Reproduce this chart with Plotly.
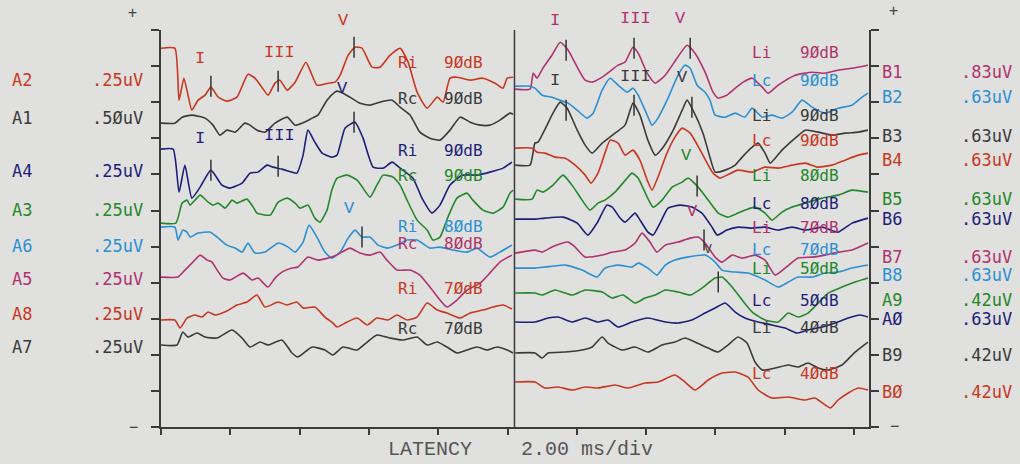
import plotly.graph_objects as go

# ---------------- constants of the display ----------------
RIGHT_OFFSET_MS = 10.0      # right-ear block is drawn after the left block
DIVIDER_MS = 10.2
X_MAX_MS = 20.43
DIV_UNITS = 36.1            # one vertical division in plot units
Y_MAX = 397.2

RED = "#c8371e"
GRAY = "#3a3a3a"
NAVY = "#1e1e7a"
GREEN = "#23882a"
BLUE = "#2b8fd4"
MAGENTA = "#b1326e"
BG = "#e0e0de"
AX = "#3a3a3a"
MONO = "DejaVu Sans Mono"
TYPE = "Liberation Mono"

# ---------------- left block (latency ms, displayed height) ----------------
A2_MS = [0.00,0.40,0.52,0.66,0.78,0.89,1.07,1.27,1.44,1.65,1.90,2.19,2.51,2.71,2.91,3.09,3.29,3.43,3.64,3.87,4.18,4.30,4.50,4.82,5.02,5.17,5.40,5.60,5.80,6.09,6.32,6.61,6.90,7.13,7.39,7.68,7.97,8.14,8.34,8.54,8.92,9.29,9.64,9.87,9.99,10.16]
A2_H = [379,379,327,349,332,317,327,332,340,330,326,330,353,349,340,332,344,347,337,345,365,357,342,344,345,352,372,380,379,360,360,372,379,365,335,319,330,325,349,350,347,349,344,339,349,350]

A1_MS = [0.00,0.40,0.61,0.89,1.27,1.50,1.70,1.90,2.14,2.42,2.57,2.77,3.00,3.29,3.64,3.87,4.07,4.36,4.53,4.79,5.02,5.08,5.25,5.45,5.74,6.03,6.32,6.67,6.90,7.19,7.47,7.76,8.05,8.34,8.63,8.92,9.21,9.49,9.78,10.07,10.16]
A1_H = [304,304,310,312,309,302,292,297,295,304,302,297,295,304,310,302,304,309,312,327,335,336,334,330,324,322,325,327,320,312,295,289,287,297,310,305,302,302,307,314,313]

A4_MS = [0.00,0.35,0.52,0.69,0.89,1.13,1.44,1.76,1.99,2.34,2.57,2.80,3.06,3.23,3.49,3.78,3.92,4.10,4.24,4.44,4.65,4.93,5.08,5.31,5.60,5.83,6.12,6.41,6.67,6.90,7.27,7.53,7.82,8.05,8.34,8.69,9.12,9.49,9.87,10.13]
A4_H = [278,278,235,262,229,240,257,242,239,244,254,255,262,260,258,255,254,272,297,285,274,270,272,299,305,289,260,259,265,259,249,229,214,222,242,252,252,255,259,265]

A3_MS = [0.00,0.43,0.61,0.75,0.84,1.13,1.36,1.50,1.65,1.85,2.05,2.19,2.48,2.66,2.77,3.15,3.38,3.64,3.87,4.01,4.24,4.44,4.59,4.79,4.93,5.08,5.37,5.66,5.83,6.03,6.23,6.41,6.70,6.90,7.10,7.39,7.68,7.85,8.05,8.28,8.54,8.83,9.00,9.29,9.58,9.87,10.07,10.16]
A3_H = [204,204,224,227,222,232,225,222,224,219,227,224,228,220,214,212,225,229,224,219,222,209,205,217,237,249,252,247,239,230,242,252,250,242,227,207,197,187,190,210,229,234,227,217,214,220,234,237]

A6_MS = [0.00,0.40,0.49,0.63,0.75,0.84,1.07,1.41,1.62,1.90,2.14,2.34,2.51,2.71,3.00,3.38,3.67,3.87,4.10,4.27,4.50,4.73,4.93,5.17,5.40,5.60,5.80,6.03,6.26,6.55,6.81,7.10,7.39,7.76,8.05,8.43,8.83,9.12,9.49,9.78,10.13]
A6_H = [200,200,187,197,195,190,194,195,190,182,179,175,184,174,175,184,180,175,185,202,190,175,169,175,189,197,190,190,182,179,182,187,187,179,180,177,175,179,170,175,182]

A5_MS = [0.00,0.49,0.69,0.92,1.13,1.33,1.47,1.62,1.79,1.99,2.37,2.63,2.80,3.09,3.29,3.49,3.78,3.95,4.24,4.53,4.93,5.17,5.45,5.74,6.03,6.32,6.52,6.81,7.19,7.47,7.76,8.05,8.25,8.54,8.83,9.21,9.49,9.78,10.13]
A5_H = [150,150,157,165,172,167,165,157,149,147,154,147,149,140,149,155,159,160,170,167,170,174,179,174,172,175,167,157,157,152,140,127,120,127,137,144,154,165,172]

A8_MS = [0.00,0.40,0.55,0.75,0.98,1.18,1.36,1.56,1.90,2.19,2.48,2.77,3.00,3.38,3.64,3.92,4.10,4.44,4.73,4.96,5.08,5.37,5.66,5.95,6.23,6.55,6.81,7.10,7.39,7.68,7.97,8.25,8.63,8.92,9.29,9.58,9.87,10.13]
A8_H = [107,107,99,109,112,110,115,112,116,122,125,132,120,125,122,125,119,120,110,104,100,105,109,102,109,107,112,107,110,124,117,114,109,114,117,120,122,118]

A7_MS = [0.00,0.46,0.63,0.78,1.04,1.27,1.62,2.05,2.34,2.57,2.86,3.09,3.49,3.78,3.95,4.36,4.73,4.96,5.25,5.66,5.95,6.23,6.61,6.98,7.39,7.68,7.97,8.25,8.54,8.83,9.12,9.41,9.70,9.99,10.16]
A7_H = [82,82,95,90,94,90,89,97,89,80,85,82,87,74,70,80,77,72,80,77,85,92,89,87,90,82,85,80,74,77,80,77,80,77,74]

# ---------------- right block (local latency ms, displayed height) ----------------
B1_MS = [0.22,0.65,0.74,0.85,1.02,1.28,1.52,1.75,2.01,2.24,2.44,2.73,3.19,3.39,3.62,3.77,4.03,4.26,4.55,4.89,5.18,5.41,5.70,5.93,6.08,6.33,6.57,6.80,7.06,7.35,7.52,7.81,8.30,8.79,9.16,9.54,9.94,10.40]
B1_H = [338,338,354,349,359,372,385,377,360,347,345,350,362,365,380,374,354,344,352,369,382,374,355,335,329,332,339,345,349,340,334,342,352,355,354,357,359,362]

B2_MS = [0.22,0.65,0.79,1.00,1.28,1.52,1.75,2.01,2.29,2.47,2.73,2.96,3.19,3.45,3.62,3.77,4.03,4.17,4.34,4.63,4.92,5.12,5.27,5.47,5.70,5.84,5.99,6.28,6.57,6.85,7.06,7.35,7.63,7.92,8.21,8.50,8.79,9.16,9.54,9.94,10.23,10.40]
B2_H = [341,341,339,332,330,327,324,317,309,314,337,349,342,335,339,332,312,302,309,329,352,362,359,342,335,327,312,310,314,310,319,310,312,309,315,327,320,314,319,322,330,334]

B3_MS = [0.22,0.65,0.79,0.88,1.14,1.31,1.52,1.72,2.01,2.24,2.44,2.73,3.10,3.39,3.62,3.82,4.05,4.26,4.49,4.78,5.04,5.18,5.35,5.64,5.84,5.99,6.28,6.57,6.77,7.06,7.23,7.43,7.58,7.92,8.30,8.59,8.96,9.36,9.74,10.12,10.40]
B3_H = [262,262,284,285,302,314,325,319,297,282,274,284,294,302,324,312,287,272,280,297,317,327,317,294,270,255,257,262,270,280,284,274,264,277,289,297,295,292,294,295,297]

B4_MS = [0.22,0.71,0.85,1.08,1.37,1.66,1.95,2.24,2.41,2.61,2.81,2.96,3.19,3.39,3.62,3.82,4.03,4.17,4.34,4.60,4.83,5.04,5.27,5.56,5.76,5.93,6.13,6.33,6.65,7.06,7.43,7.81,8.21,8.59,8.96,9.36,9.74,10.12,10.40]
B4_H = [279,279,275,274,270,269,262,252,244,254,274,287,284,272,277,267,247,237,250,274,290,299,294,277,264,254,249,252,257,255,260,259,262,264,260,262,267,272,274]

B5_MS = [0.22,0.71,0.85,1.02,1.31,1.60,1.86,2.15,2.38,2.61,2.81,3.10,3.45,3.59,3.77,4.03,4.20,4.46,4.75,5.04,5.21,5.50,5.79,6.08,6.36,6.65,6.85,7.14,7.43,7.63,7.92,8.21,8.59,9.08,9.54,9.94,10.40]
B5_H = [228,228,237,235,242,252,242,227,217,224,227,235,249,254,249,230,220,227,240,245,249,240,227,214,210,214,217,220,214,207,215,220,224,229,232,237,235]

B6_MS = [0.22,0.79,1.08,1.60,2.01,2.32,2.58,2.87,3.02,3.25,3.39,3.68,3.77,4.05,4.20,4.40,4.63,4.98,5.32,5.61,5.90,6.05,6.33,6.65,7.06,7.43,7.81,8.21,8.59,9.08,9.54,9.94,10.40]
B6_H = [208,208,209,210,204,192,204,222,220,209,205,214,210,195,192,204,219,222,220,214,200,192,197,200,199,200,197,200,197,200,195,204,209]

B7_MS = [0.22,0.79,1.00,1.28,1.75,1.95,2.24,2.73,3.02,3.39,3.68,3.88,4.11,4.31,4.55,4.92,5.27,5.50,5.70,5.99,6.19,6.48,6.77,7.14,7.43,7.72,8.01,8.38,8.79,9.16,9.54,9.94,10.40]
B7_H = [174,177,175,180,185,180,170,172,175,177,184,194,185,175,182,185,189,190,184,170,165,172,169,172,167,152,159,169,170,172,175,177,184]

B8_MS = [0.22,0.79,1.08,1.66,2.15,2.58,2.81,3.19,3.59,3.77,4.05,4.31,4.55,4.83,5.18,5.70,5.99,6.19,6.57,6.94,7.43,7.81,8.10,8.38,8.79,9.16,9.54,9.94,10.40]
B8_H = [159,159,160,162,157,150,159,162,160,164,159,152,162,167,170,172,165,157,155,154,147,140,145,150,150,154,155,159,162]

A9_MS = [0.22,0.79,1.00,1.37,1.86,2.24,2.73,3.02,3.33,3.68,3.97,4.26,4.55,4.92,5.27,5.61,5.99,6.19,6.48,6.77,7.06,7.43,7.81,8.10,8.38,8.67,8.96,9.25,9.65,10.03,10.40]
A9_H = [134,134,132,137,132,137,135,129,132,124,129,132,137,135,132,139,149,150,140,127,115,107,105,114,110,114,124,134,140,145,149]

A0_MS = [0.22,0.79,1.17,1.46,1.86,2.24,2.61,2.90,3.19,3.59,4.05,4.55,4.92,5.32,5.70,5.99,6.28,6.57,6.85,7.23,7.63,8.01,8.35,8.67,9.08,9.45,9.83,10.17,10.40]
A0_H = [105,105,109,110,105,109,105,107,100,105,109,105,104,107,114,119,124,115,109,105,102,99,94,97,100,104,109,112,110]

B9_MS = [0.22,0.79,1.00,1.17,1.66,2.15,2.44,2.73,2.90,3.30,3.68,4.05,4.46,4.83,5.12,5.47,5.79,6.08,6.36,6.65,6.91,7.14,7.35,7.72,8.10,8.38,8.67,8.96,9.25,9.65,10.03,10.40]
B9_H = [74,74,69,74,75,77,80,90,84,77,80,75,82,85,89,84,79,75,82,90,84,65,57,59,62,60,64,59,57,62,75,85]

B0_MS = [0.22,0.79,1.08,1.46,1.86,2.24,2.61,3.10,3.48,3.97,4.34,4.83,5.12,5.41,5.79,6.19,6.57,6.94,7.23,7.63,8.10,8.59,8.87,9.31,9.54,9.83,10.12,10.40]
B0_H = [45,45,39,40,37,40,39,42,39,44,45,52,45,37,47,54,55,50,37,29,30,27,29,19,27,34,39,37]

# ---------------- peak markers ----------------
PEAK_L_MS = [1.44, 3.38, 5.57, 1.44, 3.38, 5.57, 5.80]
PEAK_L_H = [341, 346, 380, 257, 261, 305, 190]
PEAK_R_MS = [1.69, 3.65, 5.27, 1.69, 3.65, 5.32, 5.47, 5.67, 6.08]
PEAK_R_H = [377, 379, 379, 317, 322, 320, 241, 187, 145]

# ---------------- labels ----------------
LEFT_IDS = ["A2", "A1", "A4", "A3", "A6", "A5", "A8", "A7"]
LEFT_SCALES = [".25uV", ".5ØuV", ".25uV", ".25uV", ".25uV", ".25uV", ".25uV", ".25uV"]
LEFT_COLORS = [RED, GRAY, NAVY, GREEN, BLUE, MAGENTA, RED, GRAY]
LEFT_LABEL_H = [347, 309, 256, 217, 181, 148, 113, 80]

RIGHT_IDS = ["B1", "B2", "B3", "B4", "B5", "B6", "B7", "B8", "A9", "AØ", "B9", "BØ"]
RIGHT_SCALES = [".83uV", ".63uV", ".63uV", ".63uV", ".63uV", ".63uV", ".63uV", ".63uV", ".42uV", ".63uV", ".42uV", ".42uV"]
RIGHT_COLORS = [MAGENTA, BLUE, GRAY, RED, GREEN, NAVY, MAGENTA, BLUE, GREEN, NAVY, GRAY, RED]
RIGHT_LABEL_H = [355, 330, 291, 267, 228, 208, 170, 152, 127, 108, 72, 35]

LEFT_SIDE = ["Ri", "Rc", "Ri", "Rc", "Ri", "Rc", "Ri", "Rc"]
LEFT_LEVEL = ["9ØdB", "9ØdB", "9ØdB", "9ØdB", "8ØdB", "8ØdB", "7ØdB", "7ØdB"]
LEFT_COND_H = [365, 329, 277, 252, 201, 184, 139, 99]
RIGHT_SIDE = ["Li", "Lc", "Li", "Lc", "Li", "Lc", "Li", "Lc", "Li", "Lc", "Li", "Lc"]
RIGHT_LEVEL = ["9ØdB", "9ØdB", "9ØdB", "9ØdB", "8ØdB", "8ØdB",
               "7ØdB", "7ØdB", "5ØdB", "5ØdB", "4ØdB", "4ØdB"]
RIGHT_COND_COLORS = [MAGENTA, BLUE, GRAY, RED, GREEN, NAVY, MAGENTA, BLUE, GREEN, NAVY, GRAY, RED]
RIGHT_COND_H = [375, 347, 312, 287, 252, 224, 200, 178, 159, 127, 100, 54]

WAVE_TEXT = ["I", "III", "V", "V", "I", "III", "V",
             "I", "III", "V", "I", "III", "V", "V", "V", "V"]
WAVE_MS = [1.13, 3.41, 5.28, 5.25, 1.13, 3.41, 5.45,
           11.37, 13.68, 14.98, 11.37, 13.68, 15.06, 15.15, 15.35, 15.79]
WAVE_H = [369, 375, 407, 339, 289, 292, 219,
          407, 409, 409, 347, 351, 350, 272, 216, 178]
WAVE_COLORS = [RED, RED, RED, NAVY, NAVY, NAVY, BLUE,
               MAGENTA, MAGENTA, MAGENTA, GRAY, GRAY, GRAY, GREEN, MAGENTA, GRAY]
WAVE_SIZES = [17, 17, 17, 17, 17, 17, 17, 17, 17, 17, 17, 17, 17, 17, 17, 13]

LEFT_SERIES = [(A2_MS, A2_H), (A1_MS, A1_H), (A4_MS, A4_H), (A3_MS, A3_H),
               (A6_MS, A6_H), (A5_MS, A5_H), (A8_MS, A8_H), (A7_MS, A7_H)]
RIGHT_SERIES = [(B1_MS, B1_H), (B2_MS, B2_H), (B3_MS, B3_H), (B4_MS, B4_H),
                (B5_MS, B5_H), (B6_MS, B6_H), (B7_MS, B7_H), (B8_MS, B8_H),
                (A9_MS, A9_H), (A0_MS, A0_H), (B9_MS, B9_H), (B0_MS, B0_H)]

fig = go.Figure()

def wave(x, y, color, name):
    return go.Scatter(x=x, y=y, mode="lines", name=name, hoverinfo="skip",
                      line=dict(color=color, width=1.6, shape="spline", smoothing=0.5))

for (ms, h), c, n in zip(LEFT_SERIES, LEFT_COLORS, LEFT_IDS):
    fig.add_trace(wave(ms, h, c, n))
for (ms, h), c, n in zip(RIGHT_SERIES, RIGHT_COLORS, RIGHT_IDS):
    fig.add_trace(wave([m + RIGHT_OFFSET_MS for m in ms], h, c, n))

peak_x = PEAK_L_MS + [m + RIGHT_OFFSET_MS for m in PEAK_R_MS]
peak_y = PEAK_L_H + PEAK_R_H
fig.add_trace(go.Scatter(x=peak_x, y=peak_y, mode="markers", hoverinfo="skip",
                         marker=dict(symbol="line-ns", size=15,
                                     line=dict(width=1.5, color="#333333"))))

ann = []
def text(x, y, t, color, size=16, family=MONO, xanchor="center"):
    # positions given in axis units, placed through paper fractions so that
    # labels in the margins are not hidden
    ann.append(dict(x=x / X_MAX_MS, y=y / Y_MAX, xref="paper", yref="paper", text=t,
                    showarrow=False, xanchor=xanchor, yanchor="middle",
                    font=dict(family=family, size=size, color=color)))

for i, s, c, h in zip(LEFT_IDS, LEFT_SCALES, LEFT_COLORS, LEFT_LABEL_H):
    text(-4.36, h, i, c, 17, xanchor="left")
    text(-0.45, h, s, c, 17, xanchor="right")
for i, s, c, h in zip(RIGHT_IDS, RIGHT_SCALES, RIGHT_COLORS, RIGHT_LABEL_H):
    text(20.75, h, i, c, 17, xanchor="left")
    text(24.62, h, s, c, 17, xanchor="right")
for sd, lv, c, h in zip(LEFT_SIDE, LEFT_LEVEL, LEFT_COLORS, LEFT_COND_H):
    text(7.11, h, sd, c, 16)
    text(8.74, h, lv, c, 16)
for sd, lv, c, h in zip(RIGHT_SIDE, RIGHT_LEVEL, RIGHT_COND_COLORS, RIGHT_COND_H):
    text(17.33, h, sd, c, 16)
    text(18.99, h, lv, c, 16)
for t, x, h, c, sz in zip(WAVE_TEXT, WAVE_MS, WAVE_H, WAVE_COLORS, WAVE_SIZES):
    text(x, h, t, c, sz, family=TYPE)

text(-0.81, 414, "+", "#444444", 15)
text(21.13, 416, "+", "#444444", 15)
text(-0.78, 0, "−", "#444444", 15)
text(21.18, 1, "−", "#444444", 15)
text(7.76, -23, "LATENCY", "#555555", 20, family=TYPE)
text(12.28, -23, "2.00 ms/div", "#555555", 20, family=TYPE)

fig.update_layout(
    width=1020, height=464,
    margin=dict(l=161, r=151, t=30, b=37),
    paper_bgcolor=BG, plot_bgcolor=BG,
    showlegend=False,
    annotations=ann,
    shapes=[dict(type="line", xref="x", yref="y domain", x0=DIVIDER_MS, x1=DIVIDER_MS,
                 y0=0, y1=1, line=dict(color=AX, width=1.5))],
    xaxis=dict(range=[0, X_MAX_MS], tick0=0, dtick=2, ticks="outside", ticklen=6,
               tickwidth=1.5, tickcolor=AX, showline=True, linecolor=AX, linewidth=1.5,
               showgrid=False, zeroline=False, showticklabels=False, mirror=False,
               fixedrange=True),
    yaxis=dict(range=[0, Y_MAX], tick0=0, dtick=DIV_UNITS, ticks="outside", ticklen=8,
               tickwidth=1.5, tickcolor=AX, showline=True, linecolor=AX, linewidth=1.5,
               showgrid=False, zeroline=False, showticklabels=False, mirror="ticks",
               fixedrange=True),
)

fig.write_html(
    "out.html",
    config={"displayModeBar": False},
    post_script="document.body.style.margin='0';document.body.style.overflow='hidden';"
                "document.body.style.background='" + BG + "';",
)
